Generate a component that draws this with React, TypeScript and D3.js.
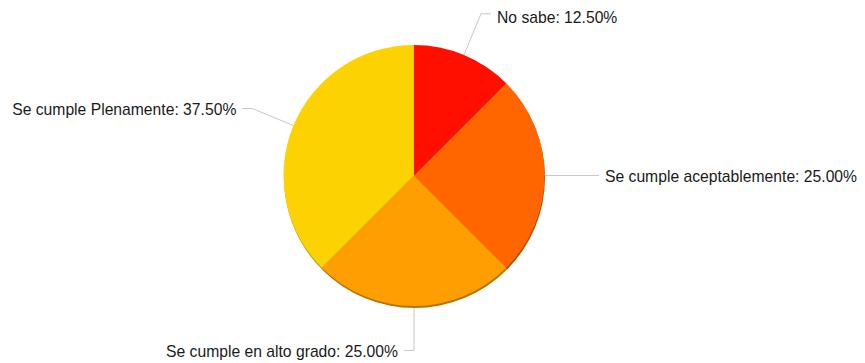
import React from "react";
import * as d3 from "d3";

const categories = [
  "No sabe",
  "Se cumple aceptablemente",
  "Se cumple en alto grado",
  "Se cumple Plenamente",
];
const values = [12.5, 25, 25, 37.5];
const colors = ["#FF0F00", "#FF6600", "#FF9E01", "#FCD202"];

const W = 865;
const H = 363;
const cx = 414;
const cy = 175.5;
const R = 130.5;
const leaderR = 175;
const hookLen = 10;
const textGap = 6;
const fontSize = 15.7;

export default function App() {
  const total = d3.sum(values);
  const pie = d3
    .pie<number>()
    .sort(null)
    .value((d) => d)(values);
  const arc = d3.arc<d3.PieArcDatum<number>>().innerRadius(0).outerRadius(R);

  return (
    <div style={{ position: "absolute", left: 0, top: 0 }}>
      <svg width={W} height={H} style={{ display: "block", background: "#fff" }}>
        <g transform={`translate(${cx},${cy})`}>
          {/* leader lines */}
          {pie.map((p, i) => {
            const mid = (p.startAngle + p.endAngle) / 2;
            const sx = Math.sin(mid);
            const sy = -Math.cos(mid);
            const x0 = sx * R;
            const y0 = sy * R;
            const x1 = sx * leaderR;
            const y1 = sy * leaderR;
            const right = sx > 1e-6;
            const x2 = x1 + (right ? hookLen : -hookLen);
            return (
              <polyline
                key={"l" + i}
                points={`${x0},${y0} ${x1},${y1} ${x2},${y1}`}
                fill="none"
                stroke="#c8c8c8"
                strokeWidth={1}
              />
            );
          })}
          {/* shadow / depth */}
          <g transform="translate(0.5,2)">
            {pie.map((p, i) => (
              <path
                key={"s" + i}
                d={arc(p) || ""}
                fill={d3.color(colors[i])!.darker(0.9).toString()}
              />
            ))}
          </g>
          {pie.map((p, i) => (
            <path key={"p" + i} d={arc(p) || ""} fill={colors[i]} />
          ))}
          {/* labels */}
          {pie.map((p, i) => {
            const mid = (p.startAngle + p.endAngle) / 2;
            const sx = Math.sin(mid);
            const sy = -Math.cos(mid);
            const x1 = sx * leaderR;
            const y1 = sy * leaderR;
            const right = sx > 1e-6;
            const x2 = x1 + (right ? hookLen + textGap : -hookLen - textGap);
            const baseline = Math.max(y1 + 6.6, 22.7 - cy);
            const pct = ((values[i] / total) * 100).toFixed(2);
            return (
              <text
                key={"t" + i}
                x={x2}
                y={baseline}
                textAnchor={right ? "start" : "end"}
                fontFamily="'Liberation Sans', Arial, sans-serif"
                fontSize={fontSize}
                fill="#1a1a1a"
              >
                {`${categories[i]}: ${pct}%`}
              </text>
            );
          })}
        </g>
      </svg>
    </div>
  );
}
